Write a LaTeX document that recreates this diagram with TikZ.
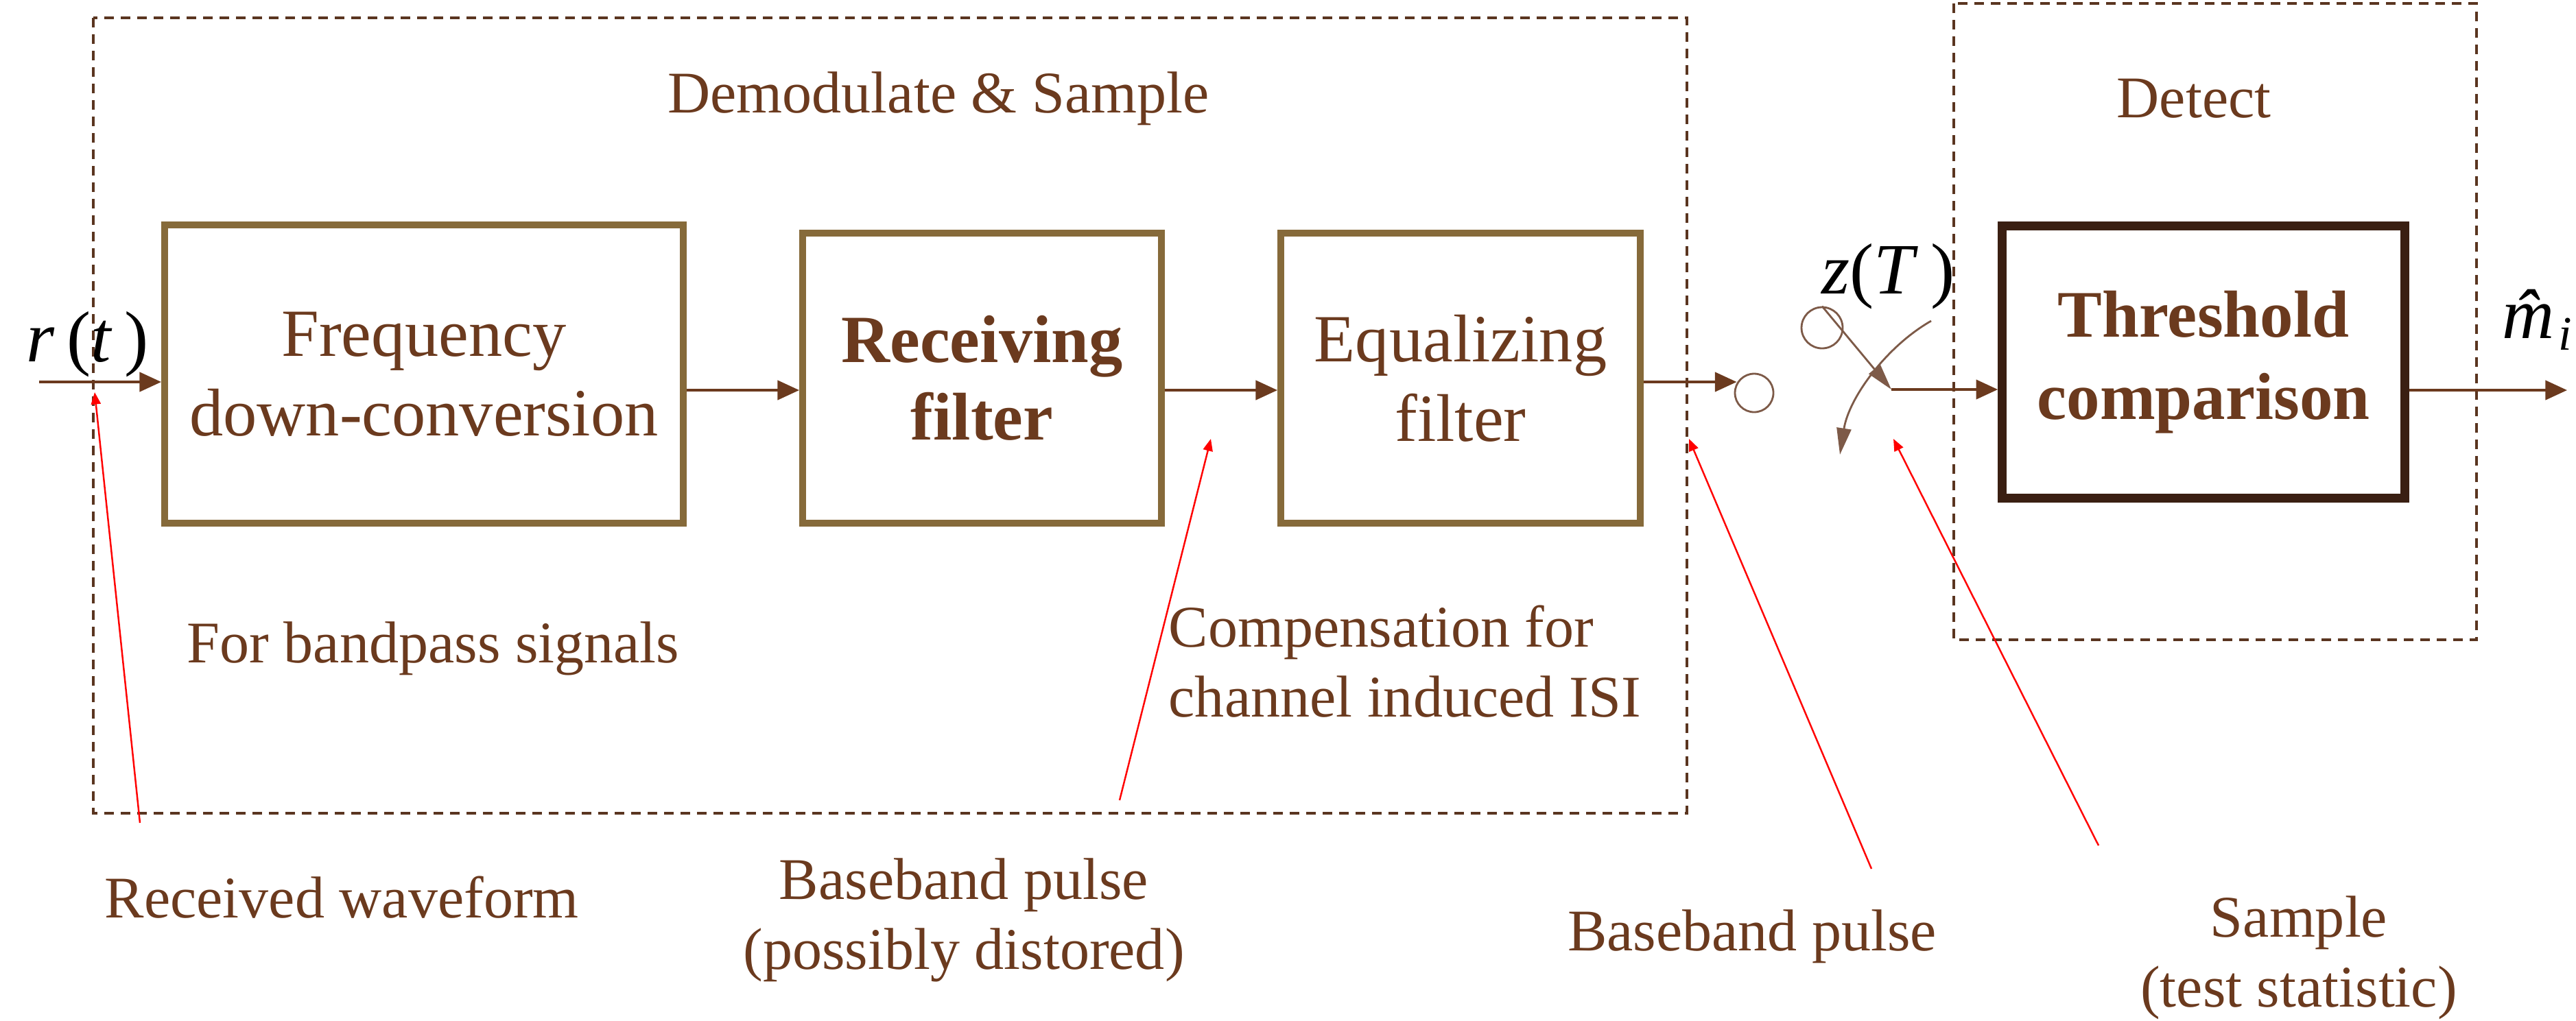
\documentclass[tikz,border=0pt]{standalone}
\usepackage{fontspec}
\setmainfont{Liberation Serif}
\usetikzlibrary{arrows.meta, calc, positioning}
\definecolor{Olive}{HTML}{866A3A}
\definecolor{Brown}{HTML}{6B3A1E}
\definecolor{DBrown}{HTML}{3A1F12}
\definecolor{LBrown}{HTML}{7D5A48}
\definecolor{Dash}{HTML}{5A3520}

\begin{document}
\begin{tikzpicture}[
  box/.style={draw=Olive, line width=2.8pt, minimum width=5.24cm, minimum height=4.23cm,
              align=center, text=Brown, font=\fontsize{28}{33}\selectfont, inner sep=0pt},
  note/.style={text=Brown, font=\fontsize{24.5}{29}\selectfont, inner sep=0pt},
  sig/.style={inner sep=0pt, font=\fontsize{30}{30}\selectfont},
  frame/.style={draw=Dash, line width=1.1pt, dash pattern=on 0.14cm off 0.1cm},
  arr/.style={-{Triangle[length=9pt, width=8pt]}, line width=1.1pt, Brown},
  swarr/.style={-{Triangle[length=11pt, width=6pt]}, line width=0.8pt, LBrown},
  ptr/.style={-{Triangle[length=5pt, width=4pt]}, line width=0.7pt, red},
]
\useasboundingbox (0,0) rectangle (37.55,-14.88);
\draw[frame] (1.36,-0.26) rectangle (24.59,-11.86);
\draw[frame] (28.48,-0.05) rectangle (36.10,-9.33);
\node[note] (demod) at (13.68,-1.44) {Demodulate \& Sample};
\node[note] (detect) at (31.98,-1.44) {Detect};

\node[box, minimum width=7.56cm, minimum height=4.35cm] (freq) at (6.18,-5.455) {Frequency\\down-conversion};
\node[box, font=\fontsize{28}{32}\selectfont\bfseries, minimum width=5.23cm] (recv) at (14.315,-5.515) {Receiving\\filter};
\node[box] (eq) at (21.29,-5.515) {Equalizing\\filter};
\node[box, draw=DBrown, line width=3.6pt, minimum width=5.87cm, minimum height=3.97cm,
      font=\fontsize{27.6}{34}\selectfont\bfseries] (thr) at (32.12,-5.28) {Threshold\\comparison};

\node[sig, anchor=base west] (rt) at (0.38,-5.27) {\textit{r}\,(\textit{t}\,)};
\node[sig, anchor=base west] (zt) at (26.55,-4.28) {\textit{z}(\textit{T}\,)};
\node[sig, anchor=base east] (mhat) at (37.50,-4.93) {\textit{\^m}\kern-0.32em{\fontsize{20}{20}\selectfont\raisebox{-0.25em}{\textit{i}}}};
\node[circle, draw=LBrown, line width=0.8pt, minimum size=0.56cm, inner sep=0pt] (cin) at (25.57,-5.73) {};
\node[circle, draw=LBrown, line width=0.8pt, minimum size=0.6cm, inner sep=0pt] (sw) at (26.56,-4.78) {};
\coordinate (rin) at (0.57,-5.57);
\coordinate (tap) at (27.57,-5.68);
\coordinate (armA) at (28.15,-4.68);
\coordinate (armB) at (26.82,-6.63);
\coordinate (mout) at (37.42,-5.69);

\draw[arr] (rin) -- (rin -| freq.west);
\draw[arr] ([yshift=-0.235cm]freq.east) -- ([yshift=-0.235cm]freq.east -| recv.west);
\draw[arr] ([yshift=-0.175cm]recv.east) -- ([yshift=-0.175cm]recv.east -| eq.west);
\draw[arr] ([yshift=-0.055cm]eq.east) -- ([yshift=-0.055cm]eq.east -| cin.150);
\draw[swarr] (sw.north) -- (tap);
\draw[swarr] (armA) .. controls (27.50,-5.05) and (26.95,-5.80) .. (armB);
\draw[arr] (tap) -- (tap -| thr.west);
\draw[arr] (thr.east |- mout) -- (mout);

\node[note, anchor=west] (band) at (2.72,-9.46) {For bandpass signals};
\node[note, anchor=west, align=left] (isi) at (17.03,-9.65) {Compensation for\\channel induced ISI};
\node[note, anchor=west] (rw) at (1.52,-13.09) {Received waveform};
\node[note, align=center] (bp1) at (14.05,-13.42) {Baseband pulse\\(possibly distored)};
\node[note] (bp2) at (25.54,-13.66) {Baseband pulse};
\node[note, align=center] (smp) at (33.51,-13.97) {Sample\\(test statistic)};

\coordinate (p1s) at (2.04,-12.00);
\coordinate (p1e) at (1.38,-5.72);
\coordinate (p2s) at (16.32,-11.67);
\coordinate (p2e) at (17.65,-6.40);
\coordinate (p3s) at (27.28,-12.67);
\coordinate (p3e) at (24.62,-6.40);
\coordinate (p4s) at (30.59,-12.33);
\coordinate (p4e) at (27.60,-6.40);
\draw[ptr] (p1s) -- (p1e);
\draw[ptr] (p2s) -- (p2e);
\draw[ptr] (p3s) -- (p3e);
\draw[ptr] (p4s) -- (p4e);
\end{tikzpicture}
\end{document}
